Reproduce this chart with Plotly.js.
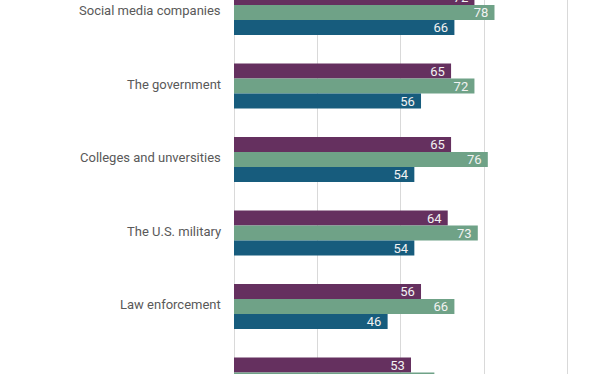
<!DOCTYPE html>
<html>
<head>
<meta charset="utf-8">
<script src="https://cdn.plot.ly/plotly-3.0.1.min.js"></script>
<style>html,body{margin:0;padding:0;background:#fff;}#chart{width:591px;height:374px;}</style>
</head>
<body>
<div id="chart"></div>
<script>
const categories = ["Social media companies", "The government", "Colleges and unversities", "The U.S. military", "Law enforcement", "Public health officials and doctors"];
const seriesPurple = [72, 65, 65, 64, 56, 53];
const seriesGreen = [78, 72, 76, 73, 66, 60];
const seriesBlue = [66, 56, 54, 54, 46, null];
const seriesNames = ["Series 1", "Series 2", "Series 3"];
const colors = ["#65305f", "#6fa287", "#175c7d"];

const allSeries = [seriesPurple, seriesGreen, seriesBlue];
const traces = allSeries.map((vals, i) => ({
  type: "bar",
  orientation: "h",
  name: seriesNames[i],
  y: categories,
  x: vals,
  marker: {color: colors[i]},
  text: vals.map(v => v == null ? "" : String(v) + "\u00a0"),
  textposition: "inside",
  insidetextanchor: "end",
  textangle: 0,
  constraintext: "none",
  textfont: {family: "Roboto, sans-serif", size: 13, color: "#f2f2f2"},
  cliponaxis: true,
  hoverinfo: "skip"
}));

const yRange = [4.918, -0.170];
// category index -> paper fraction (reversed axis), so labels past the visible range are still drawn (then clipped by the page edge)
const toPaper = idx => (yRange[0] - idx) / (yRange[0] - yRange[1]);

const layout = {
  width: 591, height: 374,
  margin: {l: 234, r: 0, t: 0, b: 0},
  paper_bgcolor: "#ffffff",
  plot_bgcolor: "#ffffff",
  barmode: "group",
  bargap: 0.388,
  bargroupgap: 0,
  showlegend: false,
  font: {family: "Roboto, sans-serif", size: 13, color: "#595959"},
  xaxis: {
    range: [0, 106.9],
    dtick: 25,
    tick0: 0,
    showgrid: true,
    gridcolor: "#d9d9d9",
    gridwidth: 1,
    zeroline: true,
    zerolinecolor: "#d9d9d9",
    zerolinewidth: 1,
    showticklabels: false,
    showline: false,
    fixedrange: true
  },
  yaxis: {
    type: "category",
    range: yRange,
    showgrid: false,
    zeroline: false,
    showline: false,
    ticks: "",
    showticklabels: false,
    fixedrange: true
  },
  annotations: categories.map((c, i) => ({
    xref: "paper", yref: "paper",
    x: 0, y: toPaper(i),
    xanchor: "right", yanchor: "middle",
    xshift: -11, yshift: i === categories.length - 1 ? -1 : 2,
    text: c,
    showarrow: false,
    font: {family: "Roboto, sans-serif", size: 13, color: "#595959"}
  }))
};

Plotly.newPlot("chart", traces, layout, {displayModeBar: false, staticPlot: true});
</script>
</body>
</html>
